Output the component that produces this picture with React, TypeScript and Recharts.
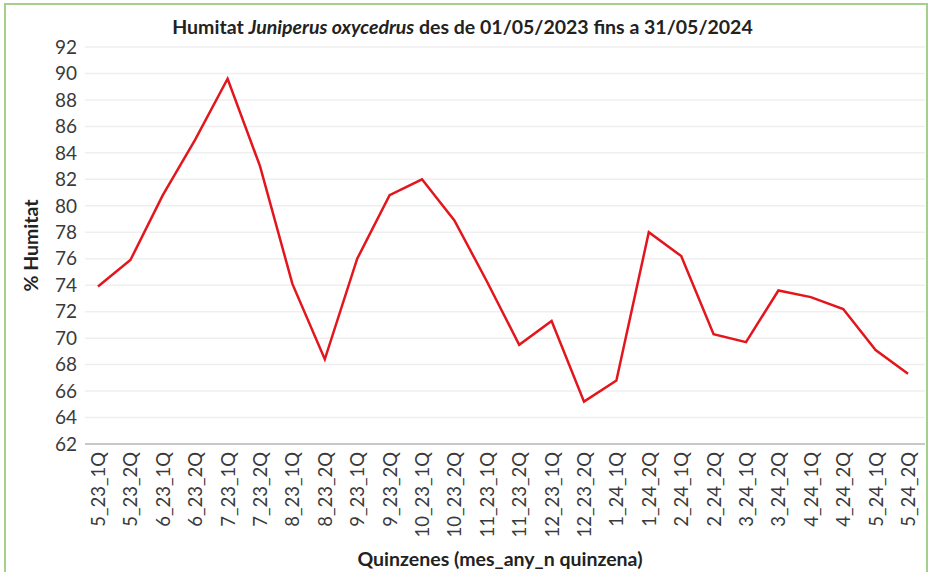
import React from 'react';
import {
  LineChart,
  Line,
  XAxis,
  YAxis,
  CartesianGrid,
  Label,
} from 'recharts';

const quinzenes = [
  '5_23_1Q', '5_23_2Q', '6_23_1Q', '6_23_2Q', '7_23_1Q', '7_23_2Q',
  '8_23_1Q', '8_23_2Q', '9_23_1Q', '9_23_2Q', '10_23_1Q', '10_23_2Q',
  '11_23_1Q', '11_23_2Q', '12_23_1Q', '12_23_2Q', '1_24_1Q', '1_24_2Q',
  '2_24_1Q', '2_24_2Q', '3_24_1Q', '3_24_2Q', '4_24_1Q', '4_24_2Q',
  '5_24_1Q', '5_24_2Q',
];

const humitat = [
  73.9, 75.9, 80.8, 85.0, 89.6, 83.0,
  74.1, 68.4, 76.0, 80.8, 82.0, 78.9,
  74.3, 69.5, 71.3, 65.2, 66.8, 78.0,
  76.2, 70.3, 69.7, 73.6, 73.1, 72.2,
  69.1, 67.3,
];

const yTicks = [62, 64, 66, 68, 70, 72, 74, 76, 78, 80, 82, 84, 86, 88, 90, 92];

const data = quinzenes.map((q, i) => ({ q, humitat: humitat[i] }));

const FONT = 'Lato, "Open Sans", sans-serif';

function XTick({ x, y, payload }: any) {
  return (
    <g transform={`translate(${x},${y})`}>
      <text
        transform="rotate(-90)"
        textAnchor="end"
        dominantBaseline="central"
        fontSize={18.5}
        fill="#3a3a3a"
        fontFamily={FONT}
      >
        {payload.value}
      </text>
    </g>
  );
}

function YTitle({ viewBox }: any) {
  const cx = viewBox.x + 30;
  const cy = viewBox.y + viewBox.height / 2;
  return (
    <text
      x={cx}
      y={cy}
      transform={`rotate(-90, ${cx}, ${cy})`}
      textAnchor="middle"
      dominantBaseline="central"
      fontSize={19.5}
      fontWeight={700}
      fill="#222"
      fontFamily={FONT}
    >
      % Humitat
    </text>
  );
}

function XTitle({ viewBox }: any) {
  return (
    <text
      x={viewBox.x + viewBox.width / 2 - 5}
      y={viewBox.y + 122}
      textAnchor="middle"
      fontSize={19.5}
      fontWeight={700}
      fill="#222"
      fontFamily={FONT}
    >
      Quinzenes (mes_any_n quinzena)
    </text>
  );
}

export default function App() {
  return (
    <div
      style={{
        position: 'absolute',
        left: 0,
        top: 0,
        width: 930,
        height: 572,
        overflow: 'hidden',
        background: '#fff',
      }}
    >
      <div
        style={{
          position: 'absolute',
          left: 4,
          top: 3,
          width: 920,
          height: 620,
          border: '2px solid #a3d08a',
        }}
      />
      <div
        style={{
          position: 'absolute',
          left: 0,
          top: 16,
          width: 925,
          textAlign: 'center',
          fontFamily: FONT,
          fontSize: 19.5,
          fontWeight: 700,
          lineHeight: '22px',
          color: '#222',
        }}
      >
        Humitat <i>Juniperus oxycedrus</i> des de 01/05/2023 fins a 31/05/2024
      </div>
      <LineChart
        width={930}
        height={572}
        data={data}
        margin={{ top: 47, right: 5, bottom: 0, left: 0 }}
      >
        <CartesianGrid vertical={false} stroke="#efefef" strokeWidth={1.5} />
        <XAxis
          dataKey="q"
          interval={0}
          height={128}
          padding={{ left: 13, right: 17 }}
          tickLine={false}
          tickSize={0}
          tickMargin={8}
          axisLine={{ stroke: '#c8c8c8', strokeWidth: 2 }}
          tick={<XTick />}
        >
          <Label content={<XTitle />} />
        </XAxis>
        <YAxis
          width={85}
          domain={[62, 92]}
          ticks={yTicks}
          interval={0}
          axisLine={false}
          tickLine={false}
          tickSize={0}
          tickMargin={8}
          tick={{ fontSize: 19, fill: '#3a3a3a', fontFamily: FONT }}
        >
          <Label content={<YTitle />} />
        </YAxis>
        <Line
          type="linear"
          dataKey="humitat"
          stroke="#e3161d"
          strokeWidth={2.5}
          dot={false}
          isAnimationActive={false}
        />
      </LineChart>
    </div>
  );
}
